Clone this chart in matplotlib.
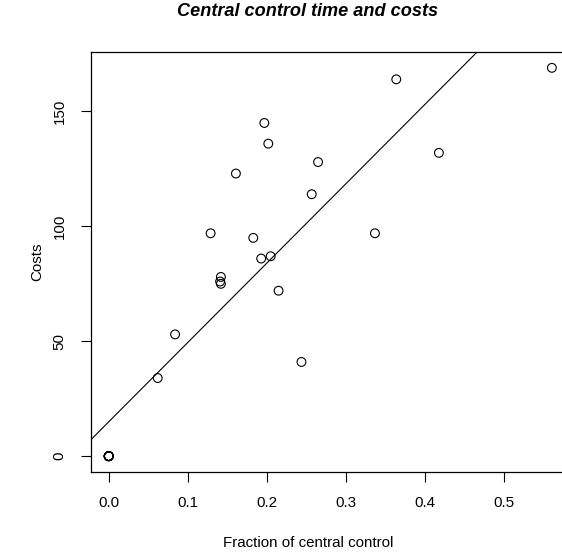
import matplotlib
matplotlib.use("Agg")
import matplotlib.pyplot as plt
import numpy as np

# fraction of central control vs costs (ten cases sit at 0, 0)
fraction = [0.0, 0.0, 0.0, 0.0, 0.0, 0.0, 0.0, 0.0, 0.0, 0.0,
            0.062, 0.084, 0.129, 0.141, 0.142, 0.142, 0.161,
            0.183, 0.193, 0.197, 0.202, 0.205, 0.215, 0.244, 0.257, 0.265,
            0.337, 0.364, 0.418, 0.561]
costs = [0, 0, 0, 0, 0, 0, 0, 0, 0, 0,
         34, 53, 97, 76, 75, 78, 123,
         95, 86, 145, 136, 87, 72, 41, 114, 128,
         97, 164, 132, 169]

x_ticks = [0.0, 0.1, 0.2, 0.3, 0.4, 0.5]
y_ticks = [0, 50, 100, 150]

plt.rcParams["font.family"] = ["Liberation Sans", "DejaVu Sans"]

fig = plt.figure(figsize=(5.62, 5.55), dpi=100)
ax = fig.add_axes([91 / 562, 1 - 471.7 / 555, 478.6 / 562, 419.4 / 555])

x = np.array(fraction)
y = np.array(costs)
ax.scatter(x, y, s=40, facecolors="none", edgecolors="black", linewidths=0.8, zorder=3)

# least squares line, like abline(lm(costs ~ fraction))
slope, intercept = np.polyfit(x, y, 1)
xx = np.array([-1.0, 2.0])
ax.plot(xx, intercept + slope * xx, color="black", linewidth=0.8)

pad_x = 0.04 * (x.max() - x.min())
pad_y = 0.04 * (y.max() - y.min())
ax.set_xlim(x.min() - pad_x, x.max() + pad_x)
ax.set_ylim(y.min() - pad_y, y.max() + pad_y)

ax.set_xticks(x_ticks)
ax.set_xticklabels([f"{t:.1f}" for t in x_ticks])
ax.set_yticks(y_ticks)
ax.set_yticklabels([str(t) for t in y_ticks], rotation=90, va="center")
ax.tick_params(direction="out", length=7.2, width=0.8, labelsize=10.9, pad=10.5)
for sp in ax.spines.values():
    sp.set_linewidth(0.9)

fig.text(308 / 562, 1 - 11.7 / 555, "Central control time and costs",
         ha="center", va="center", fontsize=13.1, fontweight="bold", style="italic")
fig.text(308 / 562, 1 - 543 / 555, "Fraction of central control",
         ha="center", va="center", fontsize=10.9)
fig.text(37.5 / 562, 1 - 262 / 555, "Costs", ha="center", va="center",
         rotation=90, fontsize=10.9)

fig.savefig("out.png", dpi=100)
